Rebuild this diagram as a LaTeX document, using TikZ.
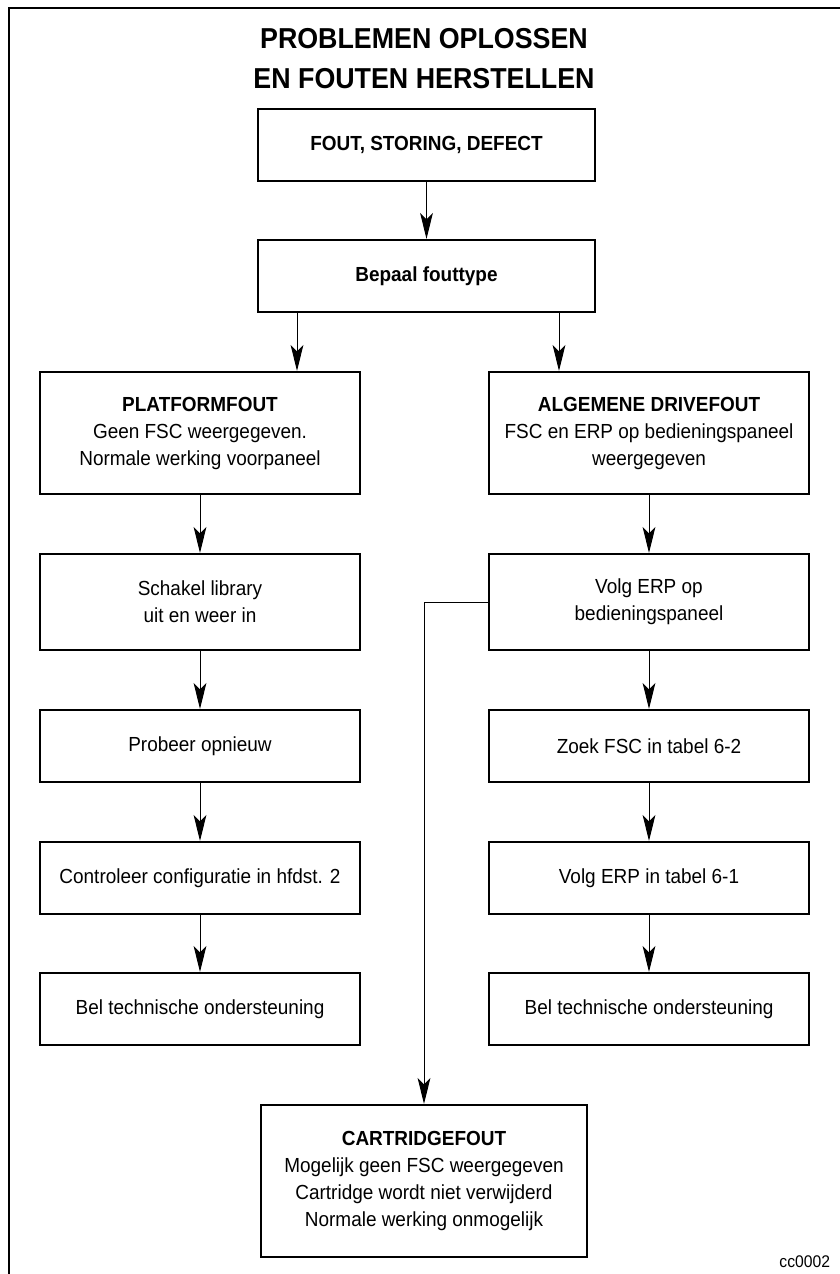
\documentclass[tikz,border=0pt]{standalone}
\usepackage{fontspec}
\setmainfont{Liberation Sans}[FakeStretch=0.93]
\usetikzlibrary{arrows.meta}

\begin{document}
\begin{tikzpicture}[
    x=0.025cm, y=-0.025cm,
    font=\fontsize{14.5}{19.2}\selectfont,
    >={Stealth[length=6.5mm, width=3.2mm, inset=1.6mm]},
    blk/.style={draw, line width=1.5pt, fill=white, align=center, inner sep=0pt,
                minimum width=8cm, minimum height=1.8cm},
    twoline/.style={blk, minimum height=2.4cm},
    threeline/.style={blk, minimum height=3.05cm},
    topbox/.style={blk, minimum width=8.425cm},
    sig/.style={->, line width=0.7pt},
    frame/.style={line width=2pt},
    ttl/.style={font=\fontsize{20.5}{28.5}\selectfont\bfseries, align=center},
    code/.style={font=\fontsize{12}{13}\selectfont},
  ]
  \useasboundingbox (0,0) rectangle (840,1274);

  % ============ Kader en titel ============
  \draw[frame] (9,1274) -- (9,8) -- (840,8);
  \node[ttl] (title) at (424,59) {PROBLEMEN OPLOSSEN\\EN FOUTEN HERSTELLEN};

  % ============ Begin ============
  \node[topbox] (fout)   at (426.5,145) {\textbf{FOUT, STORING, DEFECT}};
  \node[topbox] (bepaal) at (426.5,276) {\textbf{Bepaal fouttype}};
  \draw[sig] (fout) -- (bepaal);

  % ============ Linker kolom: platformfout ============
  \node[threeline] (platform) at (200,433)
        {\textbf{PLATFORMFOUT}\\Geen FSC weergegeven.\\Normale werking voorpaneel};
  \node[twoline] (schakel) at (200,602) {Schakel library\\uit en weer in};
  \node[blk] (probeer)  at (200,746)  {Probeer opnieuw};
  \node[blk] (config)   at (200,878)  {Controleer configuratie in hfdst. 2};
  \node[blk] (belL)     at (200,1009) {Bel technische ondersteuning};

  % ============ Rechter kolom: drivefout ============
  \node[threeline] (drive) at (649,433)
        {\textbf{ALGEMENE DRIVEFOUT}\\FSC en ERP op bedieningspaneel\\weergegeven};
  \node[twoline] (volgpan) at (649,602) {Volg ERP op\\bedieningspaneel};
  \node[blk] (zoekfsc) at (649,746)  {Zoek FSC in tabel 6-2};
  \node[blk] (volgerp) at (649,878)  {Volg ERP in tabel 6-1};
  \node[blk] (belR)    at (649,1009) {Bel technische ondersteuning};

  % ============ Onder: cartridgefout ============
  \node[blk, minimum width=8.15cm, minimum height=3.8cm] (cart) at (424,1181)
        {\textbf{CARTRIDGEFOUT}\\Mogelijk geen FSC weergegeven\\Cartridge wordt niet verwijderd\\Normale werking onmogelijk};
  \node[code, anchor=base east] (fig) at (835,1267) {cc0002};

  % ============ Verbindingen ============
  \coordinate (tapL) at (297,0);
  \coordinate (tapR) at (559,0);
  \draw[sig] (bepaal.south -| tapL) -- (platform.north -| tapL);
  \draw[sig] (bepaal.south -| tapR) -- (drive.north -| tapR);

  \draw[sig] (platform) -- (schakel);
  \draw[sig] (schakel) -- (probeer);
  \draw[sig] (probeer) -- (config);
  \draw[sig] (config) -- (belL);

  \draw[sig] (drive) -- (volgpan);
  \draw[sig] (volgpan) -- (zoekfsc);
  \draw[sig] (zoekfsc) -- (volgerp);
  \draw[sig] (volgerp) -- (belR);

  \draw[sig] (volgpan.west) -| (cart.north);

\end{tikzpicture}
\end{document}
